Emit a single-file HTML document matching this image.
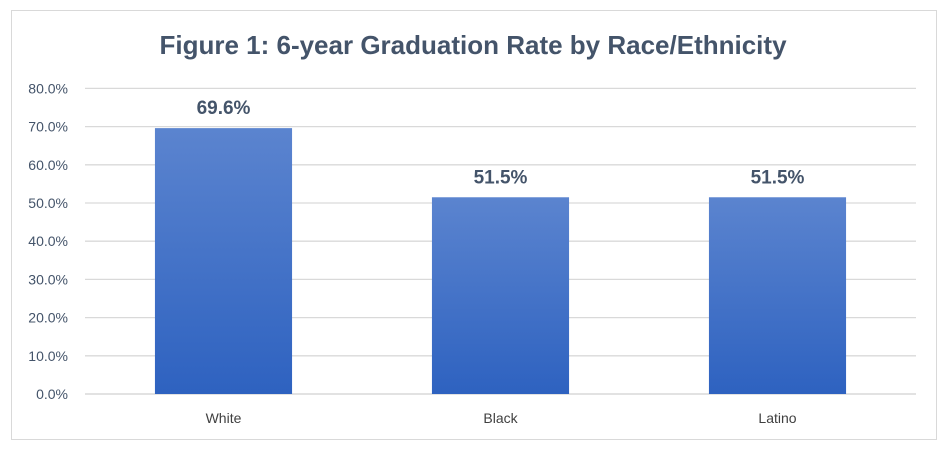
<!DOCTYPE html>
<html><head><meta charset="utf-8"><style>
body{margin:0;background:#fff;width:951px;height:451px;overflow:hidden;font-family:"Liberation Sans",sans-serif}
</style></head><body>
<svg id="chart" width="951" height="451" xmlns="http://www.w3.org/2000/svg">
<defs><linearGradient id="g" x1="0" y1="0" x2="0" y2="1"><stop offset="0" stop-color="#5b84cf"/><stop offset="1" stop-color="#2e62c0"/></linearGradient></defs>
<rect x="11.5" y="10.5" width="925" height="429" fill="#fff" stroke="#d9d9d9"/>
<text x="473" y="54" text-anchor="middle" font-size="26" font-weight="bold" fill="#44546a">Figure 1: 6-year Graduation Rate by Race/Ethnicity</text>
<g id="grid"></g><g id="bars"></g>
</svg>
<script>
const categories=["White","Black","Latino"];
const values=[69.6,51.5,51.5];
const ticks=[0,10,20,30,40,50,60,70,80];
const ns="http://www.w3.org/2000/svg";
const L=85,R=916,Y0=394,Y80=88.4;
const y=v=>Y0-(Y0-Y80)*v/80;
const bw=(R-L)/categories.length;
const x=i=>L+bw*i+bw/2;
const grid=document.getElementById('grid'),bars=document.getElementById('bars');
function mk(t,a,p){const e=document.createElementNS(ns,t);for(const k in a)e.setAttribute(k,a[k]);p.appendChild(e);return e;}
ticks.forEach(t=>{
 const l=mk('line',{x1:L,x2:R,y1:y(t),y2:y(t),stroke:t===0?'#d0d0d0':'#d9d9d9','stroke-width':1.3},grid);
 
 
 const tx=mk('text',{x:68,y:y(t)+5,'text-anchor':'end','font-size':14,fill:'#44546a'},grid);
 tx.textContent=t.toFixed(1)+'%';
 
 
});
categories.forEach((c,i)=>{
 const w=bw*0.495;
 const b=mk('rect',{x:x(i)-w/2,y:y(values[i]),width:w,height:Y0-y(values[i]),fill:'url(#g)'},bars);
 
 
 const v=mk('text',{x:x(i),y:y(values[i])-14,'text-anchor':'middle','font-size':19,'font-weight':'bold',fill:'#44546a'},bars);
 v.textContent=values[i].toFixed(1)+'%';
 
 
 const cl=mk('text',{x:x(i),y:423,'text-anchor':'middle','font-size':14,fill:'#404040'},bars);
 cl.textContent=c;
 
 
});
</script>
</body></html>
